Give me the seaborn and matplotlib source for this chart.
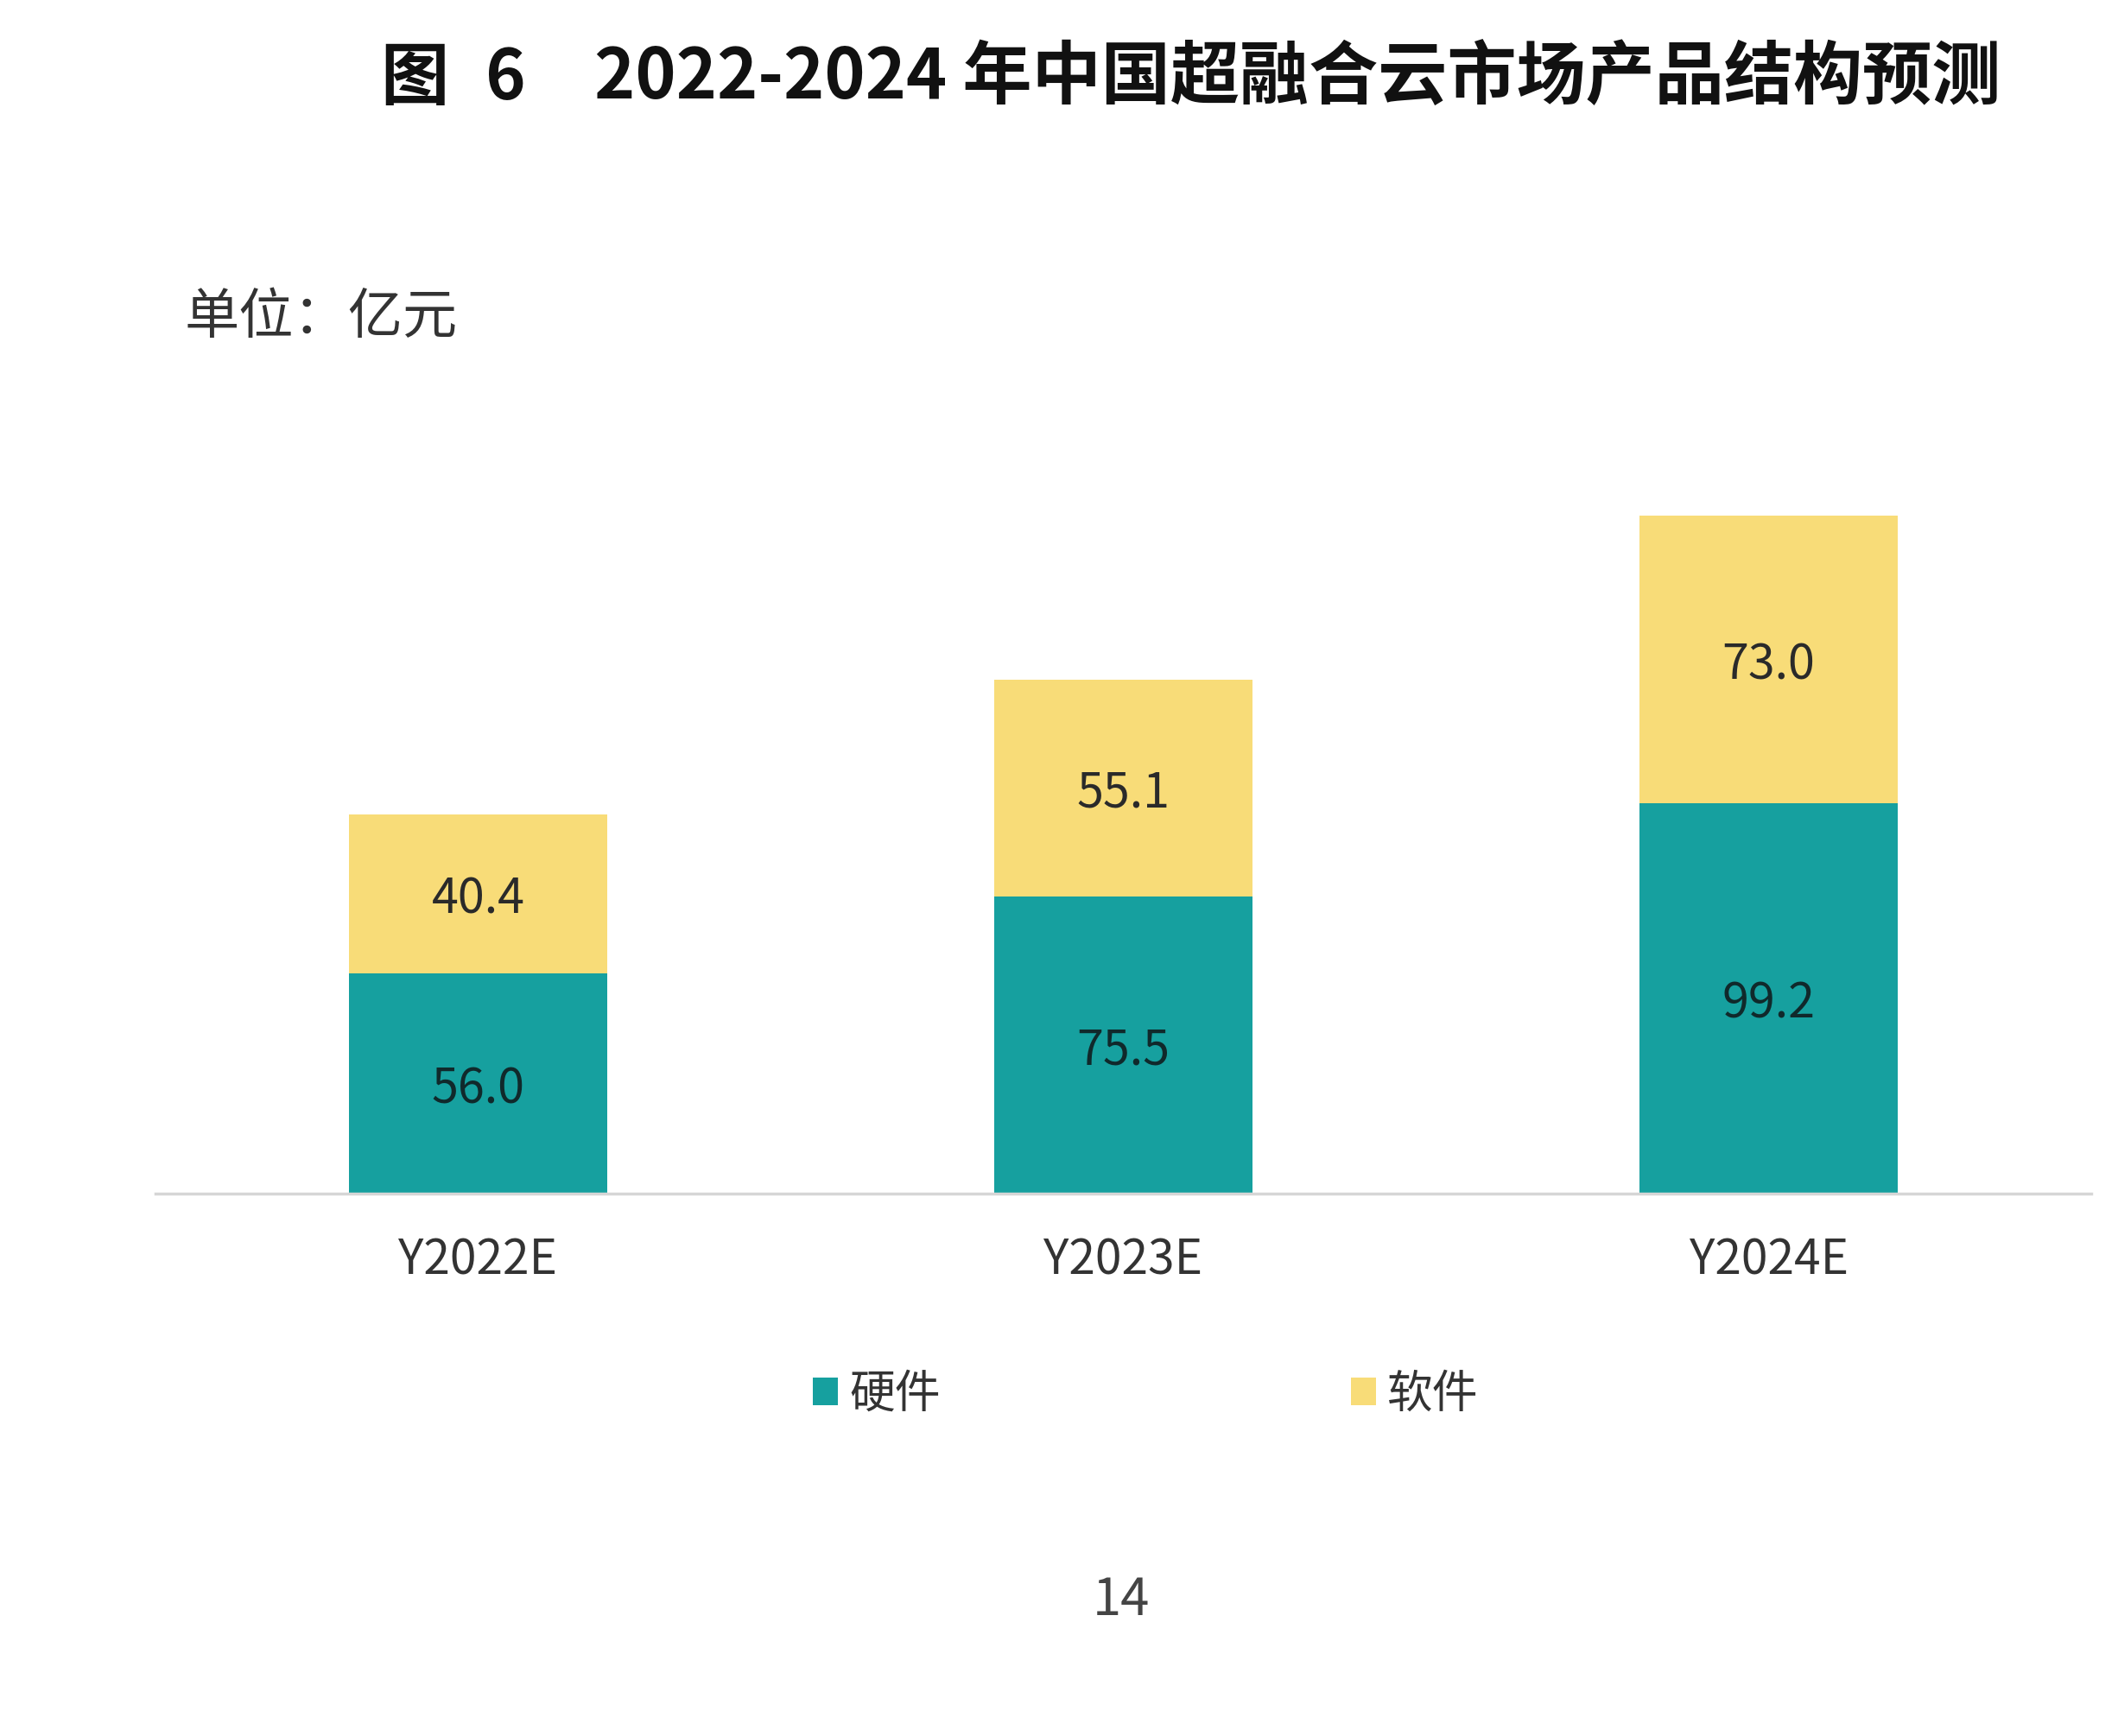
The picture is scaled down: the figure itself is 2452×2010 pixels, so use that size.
import matplotlib
matplotlib.use("Agg")
import matplotlib.pyplot as plt
import seaborn as sns
import pandas as pd

categories = ["Y2022E", "Y2023E", "Y2024E"]
hardware = [56.0, 75.5, 99.2]
software = [40.4, 55.1, 73.0]
series_names = ["硬件", "软件"]
title_parts = ["图", "6", "2022-2024 年中国超融合云市场产品结构预测"]
unit_text = "单位：亿元"
page_text = "14"

TEAL = "#16A09F"
YELLOW = "#F8DC78"

sns.set_theme(style="white")
plt.rcParams["font.family"] = ["Noto Sans CJK SC", "DejaVu Sans"]

fig = plt.figure(figsize=(24.52, 20.10), dpi=100)
ax = fig.add_axes([0.0734, 0.3124, 0.914, 0.4388])

df = pd.DataFrame({"cat": categories, "hw": hardware, "sw": software})

sns.barplot(data=df, x="cat", y="hw", color=TEAL, saturation=1, width=0.4,
            label=series_names[0], ax=ax, linewidth=0)
sns.barplot(data=df, x="cat", y="sw", color=YELLOW, saturation=1, width=0.4,
            bottom=df["hw"].values, label=series_names[1], ax=ax, linewidth=0)

ax.set_xlim(-0.5, 2.5)
ax.set_ylim(0, 193.5)

for i, (h, s) in enumerate(zip(hardware, software)):
    ax.text(i, h / 2 - 1.5, f"{h:.1f}", ha="center", va="center", fontsize=40, color="#10292b")
    ax.text(i, h + s / 2 - 1.5, f"{s:.1f}", ha="center", va="center", fontsize=40, color="#2a2a2a")

for sp in ["top", "right", "left"]:
    ax.spines[sp].set_visible(False)
ax.spines["bottom"].set_color("#d6d6d6")
ax.spines["bottom"].set_linewidth(2.5)
ax.set_yticks([])
ax.set_xlabel("")
ax.set_ylabel("")
ax.tick_params(axis="x", length=0, labelsize=39.7, colors="#333333", pad=35)

ax.legend(loc="center", bbox_to_anchor=(0.541, 0.197), bbox_transform=fig.transFigure,
          ncol=2, frameon=False, fontsize=38, handlelength=0.55, handleheight=0.55,
          handletextpad=0.25, columnspacing=9.0, labelcolor="#333333")

title_x = [440, 562, 688]
title_sizes = [57, 57, 57.7]
for x, part, fs in zip(title_x, title_parts, title_sizes):
    fig.text(x / 2452, 1 - 91 / 2010, part, ha="left", va="center",
             fontsize=fs, fontweight="bold", color="#111111")
fig.text(214 / 2452, 1 - 368 / 2010, unit_text, ha="left", va="center",
         fontsize=45.5, color="#333333")
fig.text(0.5295, 1 - 1853 / 2010, page_text, ha="center", va="center",
         fontsize=43, color="#444444")

fig.savefig("out.png", dpi=100, facecolor="white")
